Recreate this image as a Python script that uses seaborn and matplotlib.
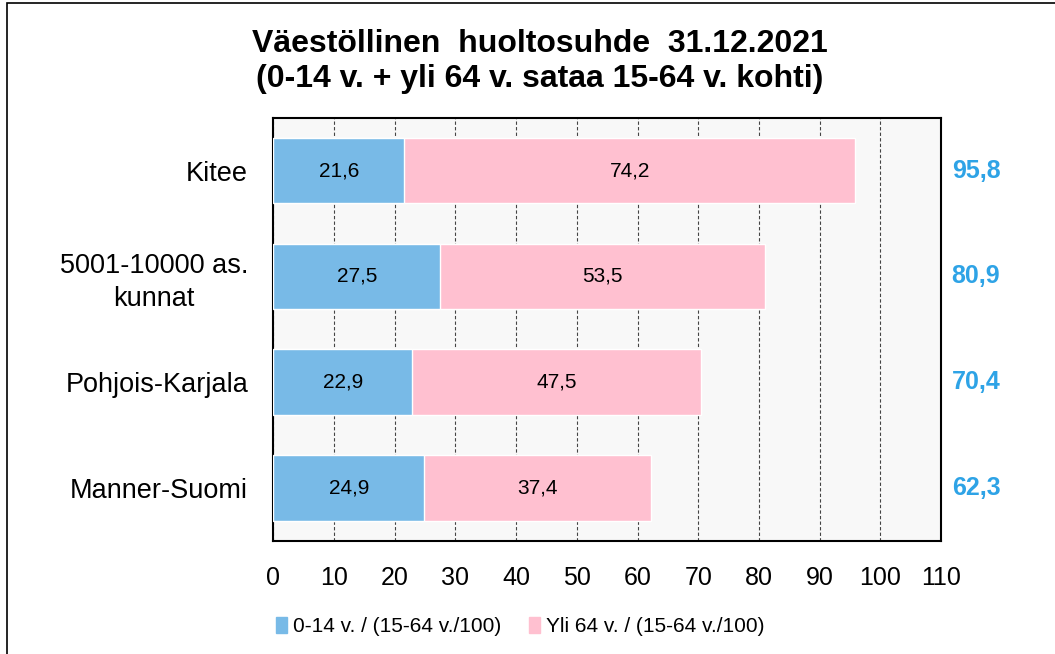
import matplotlib
matplotlib.use("Agg")
import matplotlib.pyplot as plt
import matplotlib.patches as mpatches
import seaborn as sns
import pandas as pd

# Data
areas = ["Kitee", "5001-10000 as.\nkunnat", "Pohjois-Karjala", "Manner-Suomi"]
young = [21.6, 27.5, 22.9, 24.9]      # 0-14 v. / (15-64 v./100)
old = [74.2, 53.5, 47.5, 37.4]        # Yli 64 v. / (15-64 v./100)
totals = [95.8, 80.9, 70.4, 62.3]
xticks = list(range(0, 111, 10))

blue = "#78BAE7"
pink = "#FFC0D0"
total_col = "#2EA3E6"

df = pd.DataFrame({"area": areas, "young": young, "old": old})
df["sum"] = df["young"] + df["old"]

sns.set_style("white")
plt.rcParams["font.family"] = ["Liberation Sans", "DejaVu Sans"]
plt.rcParams["text.color"] = "black"
plt.rcParams["xtick.color"] = "black"
plt.rcParams["ytick.color"] = "black"

fig = plt.figure(figsize=(10.55, 6.54), dpi=100)
ax = fig.add_axes([0.259, 0.173, 0.633, 0.647])
ax.set_facecolor("#F8F8F8")

# pink = full length, blue drawn on top
sns.barplot(data=df, x="sum", y="area", color=pink, width=0.62, saturation=1,
            ax=ax, zorder=2, label="Yli 64 v. / (15-64 v./100)")
sns.barplot(data=df, x="young", y="area", color=blue, width=0.62, saturation=1,
            ax=ax, zorder=3, label="0-14 v. / (15-64 v./100)")

# segment labels
for i, row in df.iterrows():
    ax.text(row["young"] / 2, i, f"{row['young']:.1f}".replace(".", ","),
            ha="center", va="center", fontsize=15, zorder=4)
    ax.text(row["young"] + row["old"] / 2, i, f"{row['old']:.1f}".replace(".", ","),
            ha="center", va="center", fontsize=15, zorder=4)
    ax.text(1.016, i, f"{totals[i]:.1f}".replace(".", ","), transform=ax.get_yaxis_transform(),
            ha="left", va="center", fontsize=18, fontweight="bold", color=total_col)

ax.set_xlim(0, 110)
ax.set_xticks(xticks)
ax.set_xticklabels([str(t) for t in xticks], fontsize=18)
ax.tick_params(axis="x", length=0, pad=18)
ax.tick_params(axis="y", length=0, pad=18, labelsize=19.5)
for lbl in ax.get_yticklabels():
    lbl.set_multialignment("center")
    lbl.set_linespacing(1.35)
ax.set_xlabel("")
ax.set_ylabel("")

ax.xaxis.grid(True, linestyle=(0, (3, 2)), color="#444444", linewidth=0.8, zorder=1)
ax.set_axisbelow(True)
for s in ax.spines.values():
    s.set_visible(True)
    s.set_color("black")
    s.set_linewidth(1.5)

fig.text(0.512, 0.906, "Väestöllinen  huoltosuhde  31.12.2021\n(0-14 v. + yli 64 v. sataa 15-64 v. kohti)",
         ha="center", va="center", fontsize=23, fontweight="bold", linespacing=1.25)

handles, labels = ax.get_legend_handles_labels()
leg_handles = [mpatches.Patch(color=blue, label=labels[1]),
               mpatches.Patch(color=pink, label=labels[0])]
ax.legend(handles=leg_handles, loc="upper left", bbox_to_anchor=(-0.024, -0.135),
          ncol=2, frameon=False, fontsize=15, handlelength=0.55, handleheight=0.8,
          handletextpad=0.25, columnspacing=1.35)

# figure frame (only top and left edges fall inside the image)
fig.patches.append(mpatches.Rectangle((7 / 1055, -0.05), 1.1, 1.05 - 3 / 654, transform=fig.transFigure,
                                      fill=False, edgecolor="black", linewidth=1.2))

fig.savefig("out.png", dpi=100)
